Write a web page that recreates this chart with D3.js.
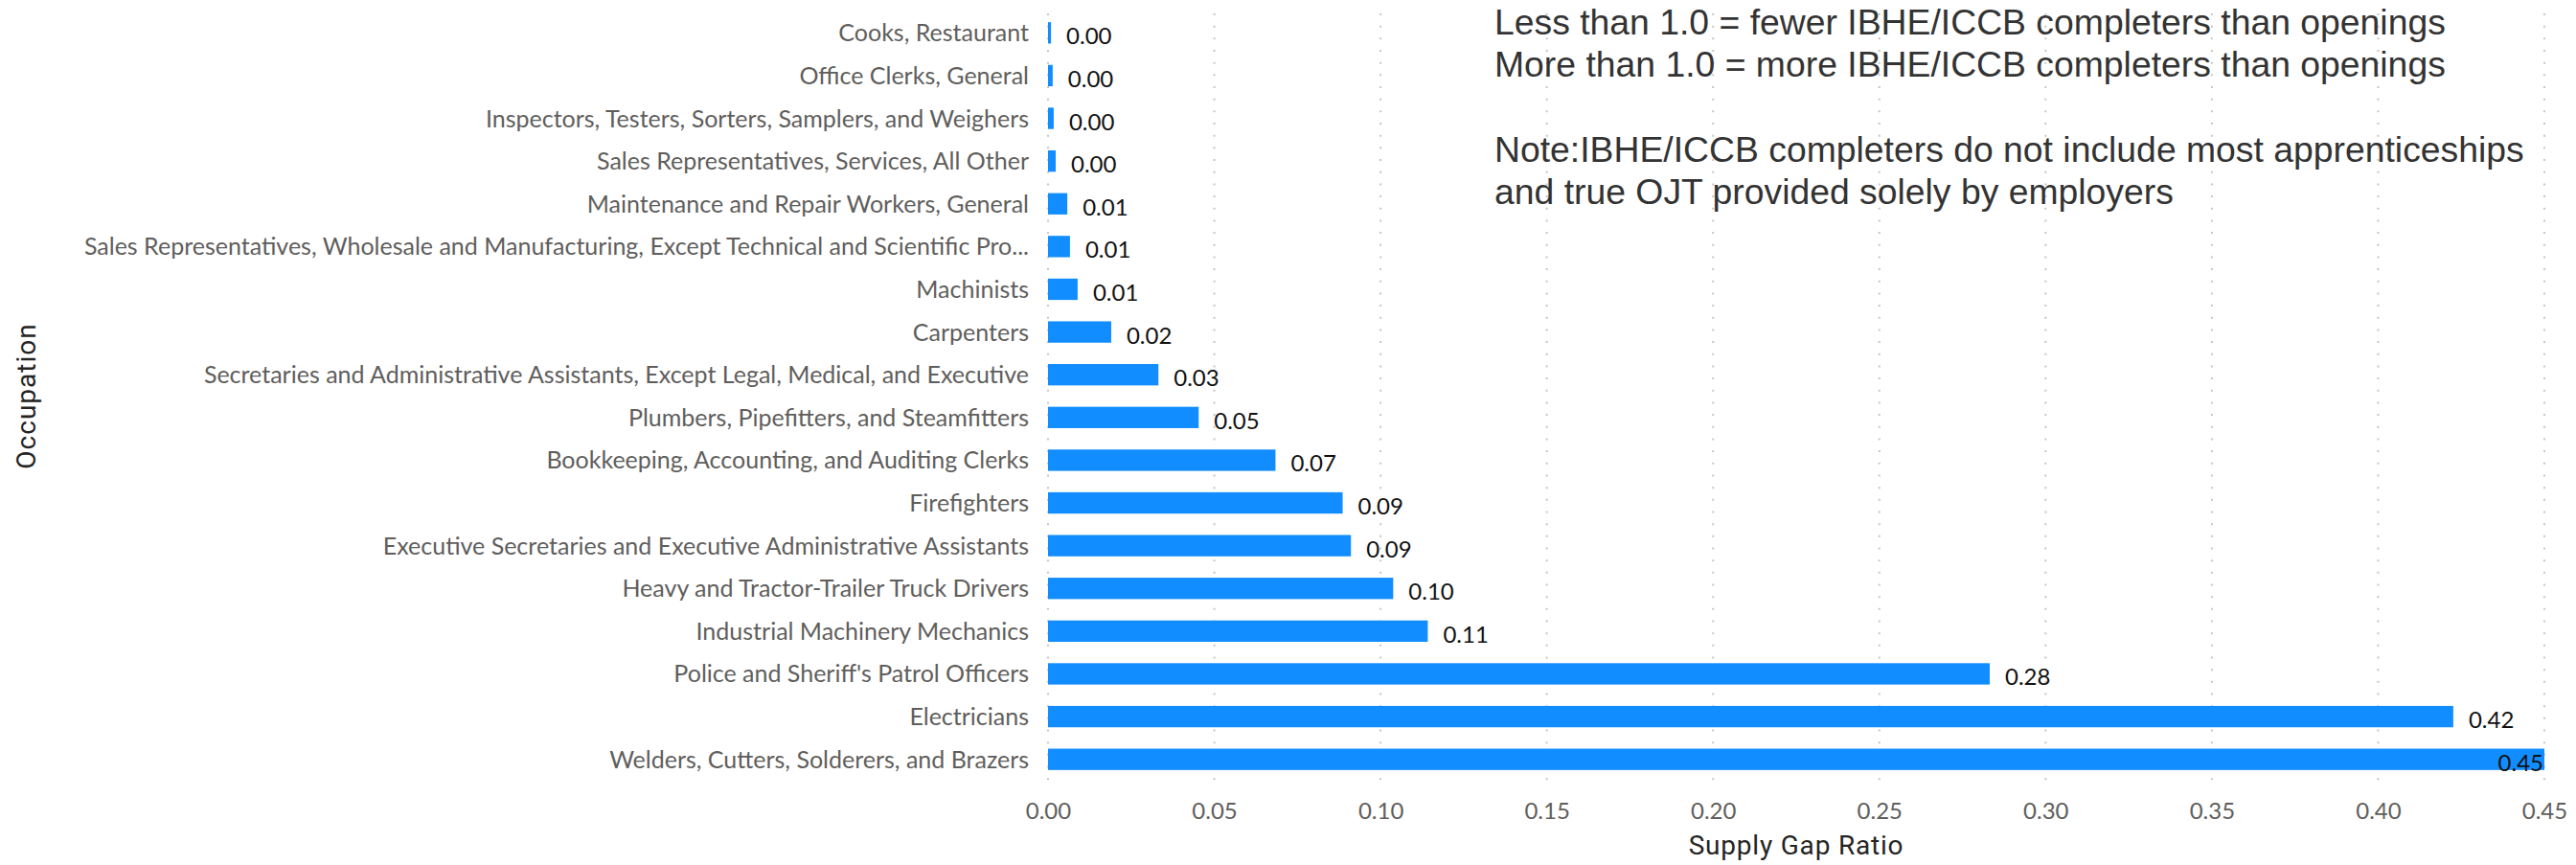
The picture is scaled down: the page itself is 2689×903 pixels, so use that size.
<!DOCTYPE html>
<html>
<head>
<meta charset="utf-8">
<script src="https://cdn.jsdelivr.net/npm/d3@7"></script>
<style>
  html, body { margin: 0; padding: 0; background: #fff; }
  svg { display: block; }
</style>
</head>
<body>
<svg id="chart" width="2689" height="903"></svg>
<script>
// ---- data ----
const categories = [
  "Cooks, Restaurant",
  "Office Clerks, General",
  "Inspectors, Testers, Sorters, Samplers, and Weighers",
  "Sales Representatives, Services, All Other",
  "Maintenance and Repair Workers, General",
  "Sales Representatives, Wholesale and Manufacturing, Except Technical and Scientific Pro...",
  "Machinists",
  "Carpenters",
  "Secretaries and Administrative Assistants, Except Legal, Medical, and Executive",
  "Plumbers, Pipefitters, and Steamfitters",
  "Bookkeeping, Accounting, and Auditing Clerks",
  "Firefighters",
  "Executive Secretaries and Executive Administrative Assistants",
  "Heavy and Tractor-Trailer Truck Drivers",
  "Industrial Machinery Mechanics",
  "Police and Sheriff's Patrol Officers",
  "Electricians",
  "Welders, Cutters, Solderers, and Brazers"
];
const supplyGapRatio = [
  0.0009, 0.0014, 0.0017, 0.0023, 0.0058, 0.0066, 0.0089, 0.019, 0.0332,
  0.0453, 0.0684, 0.0886, 0.0911, 0.1038, 0.1142, 0.2832, 0.4226, 0.45
];
const xTicks = [0, 0.05, 0.10, 0.15, 0.20, 0.25, 0.30, 0.35, 0.40, 0.45];
const xDomain = [0, 0.45];
const annotationLines = [
  "Less than 1.0 = fewer IBHE/ICCB completers than openings",
  "More than 1.0 = more IBHE/ICCB completers than openings",
  "",
  "Note:IBHE/ICCB completers do not include most apprenticeships",
  "and true OJT provided solely by employers"
];
const xTitle = "Supply Gap Ratio";
const yTitle = "Occupation";

// ---- layout ----
const plot = { left: 1094, right: 2656, top: 12, bottom: 815 };
const svg = d3.select("#chart");
const fmt = d3.format(".2f");

const x = d3.scaleLinear().domain(xDomain).range([plot.left, plot.right]);
const y = d3.scaleBand().domain(categories).range([plot.top, plot.bottom])
  .paddingInner(0.5).paddingOuter(0.25);

const data = categories.map((c, i) => ({ cat: c, v: supplyGapRatio[i] }));

// gridlines
svg.append("g").selectAll("line").data(xTicks).join("line")
  .attr("x1", d => x(d)).attr("x2", d => x(d))
  .attr("y1", 14).attr("y2", 823)
  .attr("stroke", "#c8c6c4").attr("stroke-width", 2)
  .attr("stroke-dasharray", "2,10.67");

// x axis
const xAxis = svg.append("g").attr("transform", `translate(0,${plot.bottom})`)
  .call(d3.axisBottom(x).tickValues(xTicks).tickFormat(fmt).tickSize(0).tickPadding(0));
xAxis.select(".domain").remove();
xAxis.selectAll("text")
  .attr("y", 40).attr("dy", null)
  .attr("font-family", "Lato, 'Open Sans', sans-serif")
  .attr("font-size", 24).attr("fill", "#605e5c");

// y axis
const yAxis = svg.append("g").attr("transform", `translate(${plot.left},0)`)
  .call(d3.axisLeft(y).tickSize(0).tickPadding(20));
yAxis.select(".domain").remove();
yAxis.selectAll("text")
  .attr("dy", "0.36em")
  .attr("font-family", "Lato, 'Open Sans', sans-serif")
  .attr("font-size", 25).attr("fill", "#605e5c");

// bars
svg.append("g").selectAll("rect").data(data).join("rect")
  .attr("x", x(0))
  .attr("y", d => y(d.cat))
  .attr("width", d => x(d.v) - x(0))
  .attr("height", y.bandwidth())
  .attr("fill", "#118dff");

// value labels
const labels = svg.append("g").selectAll("text").data(data).join("text")
  .attr("y", d => y(d.cat) + y.bandwidth() / 2)
  .attr("dy", "0.5em")
  .attr("font-family", "Lato, 'Open Sans', sans-serif")
  .attr("font-size", 24).attr("fill", "#111")
  .text(d => fmt(d.v));
labels.each(function(d) {
  const w = this.getComputedTextLength();
  const sel = d3.select(this);
  if (x(d.v) + 16 + w > plot.right) {
    sel.attr("x", x(d.v) - 1).attr("text-anchor", "end");
  } else {
    sel.attr("x", x(d.v) + 16).attr("text-anchor", "start");
  }
});

// axis titles
svg.append("text")
  .attr("x", (plot.left + plot.right) / 2).attr("y", 892)
  .attr("text-anchor", "middle")
  .attr("font-family", "Roboto, sans-serif").attr("font-size", 28)
  .attr("letter-spacing", 0.8)
  .attr("fill", "#252423").text(xTitle);

svg.append("text")
  .attr("transform", `translate(37,${(plot.top + plot.bottom) / 2}) rotate(-90)`)
  .attr("text-anchor", "middle")
  .attr("font-family", "Roboto, sans-serif").attr("font-size", 28)
  .attr("letter-spacing", 1)
  .attr("fill", "#252423").text(yTitle);

// annotation
const ann = svg.append("text")
  .attr("font-family", "'Liberation Sans', Arial, sans-serif")
  .attr("font-size", 37.33).attr("fill", "#333333");
annotationLines.forEach((t, i) => {
  ann.append("tspan").attr("x", 1560).attr("y", 36 + i * 44.3).text(t);
});
</script>
</body>
</html>
